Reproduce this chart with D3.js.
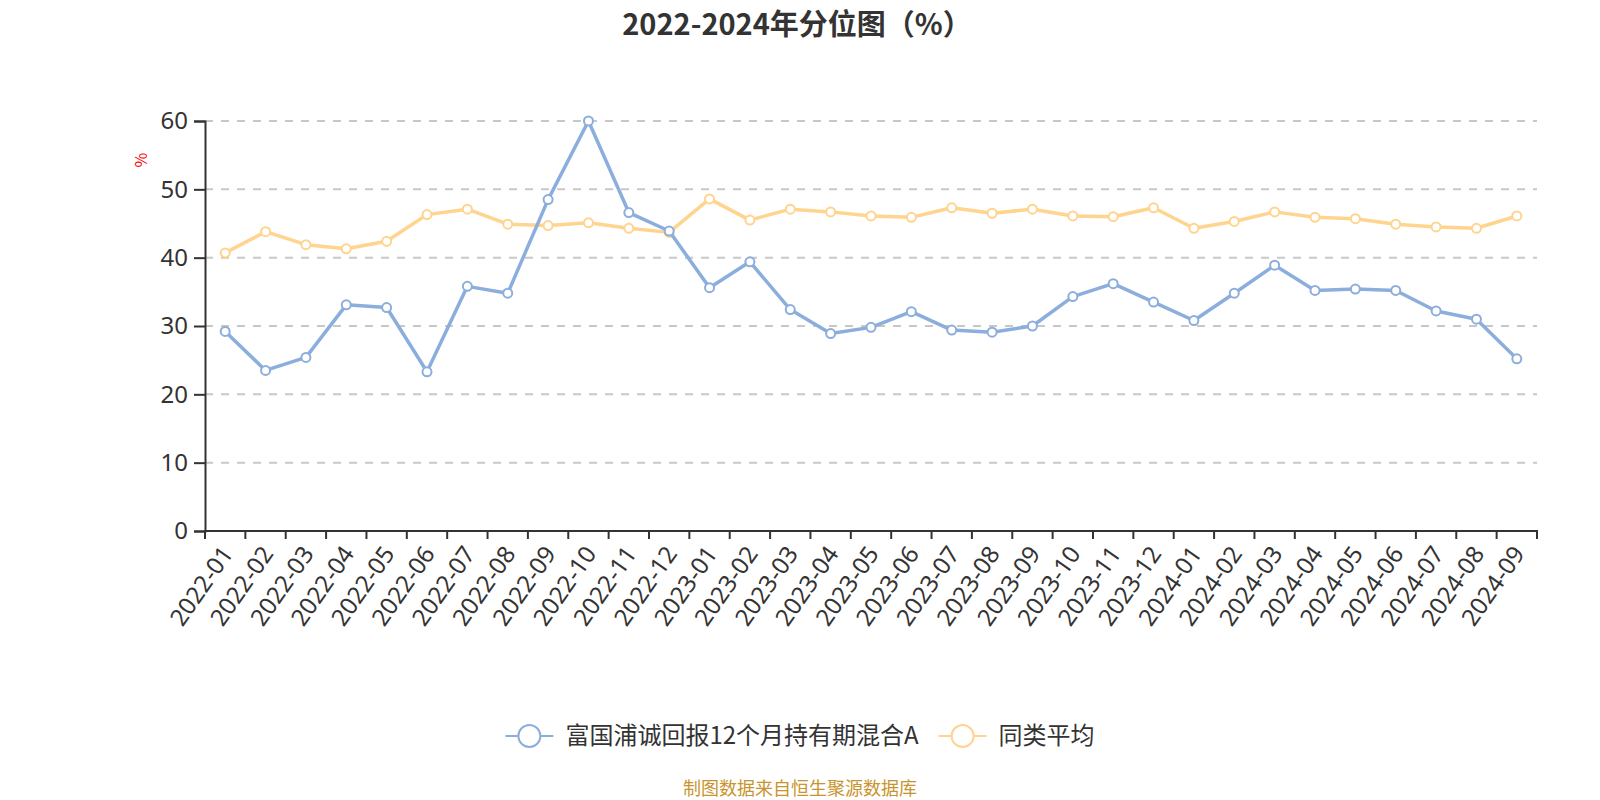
<!DOCTYPE html>
<html>
<head>
<meta charset="utf-8">
<script src="https://cdn.jsdelivr.net/npm/d3@7"></script>
<style>
  body { margin: 0; background: #fff; }
  svg { font-family: "Noto Sans CJK SC", "Noto Sans", sans-serif; }
</style>
</head>
<body>
<div id="chart"></div>
<script>
// måneder 2022-01 .. 2024-09
const months = [
  "2022-01","2022-02","2022-03","2022-04","2022-05","2022-06","2022-07","2022-08","2022-09","2022-10","2022-11","2022-12",
  "2023-01","2023-02","2023-03","2023-04","2023-05","2023-06","2023-07","2023-08","2023-09","2023-10","2023-11","2023-12",
  "2024-01","2024-02","2024-03","2024-04","2024-05","2024-06","2024-07","2024-08","2024-09"
];
const fundValues = [
  29.2, 23.5, 25.4, 33.1, 32.7, 23.3, 35.8, 34.8, 48.5, 60.0, 46.6, 43.9,
  35.6, 39.4, 32.4, 28.9, 29.8, 32.1, 29.4, 29.1, 30.0, 34.3, 36.2, 33.5,
  30.8, 34.8, 38.9, 35.2, 35.4, 35.2, 32.2, 31.0, 25.2
];
const avgValues = [
  40.7, 43.8, 41.9, 41.3, 42.4, 46.3, 47.1, 44.9, 44.7, 45.1, 44.3, 43.7,
  48.6, 45.5, 47.1, 46.7, 46.1, 45.9, 47.3, 46.5, 47.1, 46.1, 46.0, 47.3,
  44.3, 45.3, 46.7, 45.9, 45.7, 44.9, 44.5, 44.3, 46.1
];
const seriesNames = ["富国浦诚回报12个月持有期混合A", "同类平均"];
const seriesColors = ["#8caedc", "#fed48f"];
const yTicks = [0, 10, 20, 30, 40, 50, 60];

const W = 1600, H = 800;
const plotLeft = 205, plotRight = 1537, plotTop = 121, plotBottom = 531;

const svg = d3.select("#chart").append("svg")
    .attr("width", W)
    .attr("height", H);

// titel
svg.append("text")
    .attr("x", 797)
    .attr("y", 35)
    .attr("text-anchor", "middle")
    .attr("font-size", 29)
    .attr("font-weight", "bold")
    .attr("fill", "#333")
    .text("2022-2024年分位图（%）");

const x = d3.scaleBand().domain(months).range([plotLeft, plotRight]).padding(0);
const y = d3.scaleLinear().domain([0, 60]).range([plotBottom, plotTop]);
const cx = d => x(d) + x.bandwidth() / 2;

// gitterlinjer
svg.append("g").selectAll("line")
    .data(yTicks.filter(t => t > 0))
    .join("line")
    .attr("x1", plotLeft)
    .attr("x2", plotRight)
    .attr("y1", d => y(d))
    .attr("y2", d => y(d))
    .attr("stroke", "#c8c8c8")
    .attr("stroke-width", 2)
    .attr("stroke-dasharray", "8,8");

// y-akse
const yAxis = svg.append("g")
    .attr("transform", "translate(" + plotLeft + ",0)")
    .call(d3.axisLeft(y).tickValues(yTicks).tickSize(11).tickPadding(6));
yAxis.select(".domain").attr("stroke", "#333").attr("stroke-width", 2);
yAxis.selectAll(".tick line").attr("stroke", "#333").attr("stroke-width", 2);
yAxis.selectAll(".tick text")
    .attr("font-size", 24)
    .attr("fill", "#333")
    .attr("font-family", "'Noto Sans', sans-serif");

// x-akse (ticks på grænserne mellem kategorier)
const xAxis = svg.append("g").attr("transform", "translate(0," + plotBottom + ")");
xAxis.append("line")
    .attr("x1", plotLeft - 1).attr("x2", plotRight + 1)
    .attr("stroke", "#333").attr("stroke-width", 2);
xAxis.selectAll("line.tk")
    .data(months.map(m => x(m)).concat([plotRight]))
    .join("line")
    .attr("class", "tk")
    .attr("x1", d => d).attr("x2", d => d)
    .attr("y1", 0).attr("y2", 8)
    .attr("stroke", "#333").attr("stroke-width", 2);
xAxis.selectAll("text")
    .data(months)
    .join("text")
    .attr("transform", d => "translate(" + (cx(d) + 2) + ",18) rotate(-55)")
    .attr("text-anchor", "end")
    .attr("dy", "0.35em")
    .attr("font-size", 24)
    .attr("fill", "#333")
    .attr("font-family", "'Noto Sans', sans-serif")
    .text(d => d);

// enhed
svg.append("text")
    .attr("transform", "translate(141,160) rotate(-90)")
    .attr("text-anchor", "middle")
    .attr("dy", "0.35em")
    .attr("font-size", 16)
    .attr("fill", "red")
    .text("%");

// linjer + punkter
const allSeries = [fundValues, avgValues];
const line = d3.line().x((d, i) => cx(months[i])).y(d => y(d));
[1, 0].forEach(function(k) {
    const vals = allSeries[k];
    svg.append("path")
        .datum(vals)
        .attr("d", line)
        .attr("fill", "none")
        .attr("stroke", seriesColors[k])
        .attr("stroke-width", 3.5)
        .attr("stroke-linejoin", "round");
    svg.append("g").selectAll("circle")
        .data(vals)
        .join("circle")
        .attr("cx", (d, i) => cx(months[i]))
        .attr("cy", d => y(d))
        .attr("r", 4.5)
        .attr("fill", "#fff")
        .attr("stroke", seriesColors[k])
        .attr("stroke-width", 2);
});

// legend, centreret om 800
const legend = svg.append("g");
let lx = 0;
seriesNames.forEach(function(name, k) {
    const g = legend.append("g").attr("transform", "translate(" + lx + ",736)");
    g.append("line").attr("x1", 0).attr("x2", 48)
        .attr("stroke", seriesColors[k]).attr("stroke-width", 2);
    g.append("circle").attr("cx", 24).attr("r", 11)
        .attr("fill", "#fff").attr("stroke", seriesColors[k]).attr("stroke-width", 2);
    const t = g.append("text").attr("x", 60).attr("dy", "0.35em")
        .attr("font-size", 24).attr("fill", "#333").text(name);
    lx += 60 + t.node().getComputedTextLength() + 20;
});
const lw = lx - 20;
legend.attr("transform", "translate(" + (800 - lw / 2) + ",0)");

// kilde
svg.append("text")
    .attr("x", 800)
    .attr("y", 795)
    .attr("text-anchor", "middle")
    .attr("font-size", 18)
    .attr("fill", "#c8942d")
    .text("制图数据来自恒生聚源数据库");
</script>
</body>
</html>
